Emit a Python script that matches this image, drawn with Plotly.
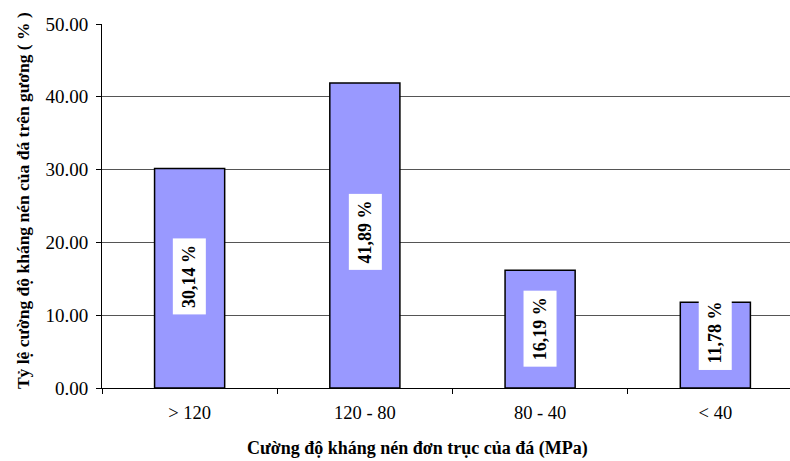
import plotly.graph_objects as go

categories = ["> 120", "120 - 80", "80 - 40", "< 40"]
values = [30.14, 41.89, 16.19, 11.78]
value_labels = ["30,14 %", "41,89 %", "16,19 %", "11,78 %"]
label_yshift = [2, 4, 0, 13]

SERIF = "Liberation Serif, Times New Roman, serif"

fig = go.Figure()
fig.add_trace(go.Bar(
    x=categories,
    y=values,
    width=0.4,
    marker=dict(color="#9999FF", line=dict(color="black", width=1.5)),
    hoverinfo="skip",
))

# value labels: white boxes, rotated, centred on each bar
for cat, v, lab, dy in zip(categories, values, value_labels, label_yshift):
    fig.add_annotation(
        x=cat, y=v / 2, xref="x", yref="y",
        text="<b>" + lab + "</b>",
        textangle=-90, showarrow=False,
        bgcolor="white", borderpad=6, yshift=dy,
        font=dict(family=SERIF, size=18, color="black"),
    )

# axis titles
fig.add_annotation(
    x=-0.115, y=0.516, xref="paper", yref="paper",
    xanchor="center", yanchor="middle",
    text="<b>Tỷ lệ cường độ kháng nén của đá trên gương ( % )</b>",
    textangle=-90, showarrow=False,
    font=dict(family=SERIF, size=17.5, color="black"),
)
fig.add_annotation(
    x=0.458, y=-0.166, xref="paper", yref="paper",
    xanchor="center", yanchor="middle",
    text="<b>Cường độ kháng nén đơn trục của đá (MPa)</b>",
    showarrow=False,
    font=dict(family=SERIF, size=18, color="black"),
)

fig.update_layout(
    width=790, height=461,
    margin=dict(l=102, r=0, t=24, b=73),
    paper_bgcolor="white", plot_bgcolor="white",
    showlegend=False,
    bargap=0.6,
    font=dict(family=SERIF, size=18, color="black"),
    xaxis=dict(
        type="category",
        range=[-0.5, 3.426],
        showline=True, linecolor="black", linewidth=1,
        ticks="outside", tickson="boundaries", ticklen=5, tickcolor="black",
        showgrid=False,
        tickfont=dict(family=SERIF, size=18.5),
        ticklabelstandoff=8,
    ),
    yaxis=dict(
        range=[0, 50], dtick=10, tickformat=".2f",
        showline=True, linecolor="black", linewidth=1,
        ticks="outside", ticklen=5, tickcolor="black",
        showgrid=True, gridcolor="#555555", gridwidth=1,
        zeroline=False,
        tickfont=dict(family=SERIF, size=19),
        ticklabelstandoff=4,
    ),
)

fig.write_html("out.html")
